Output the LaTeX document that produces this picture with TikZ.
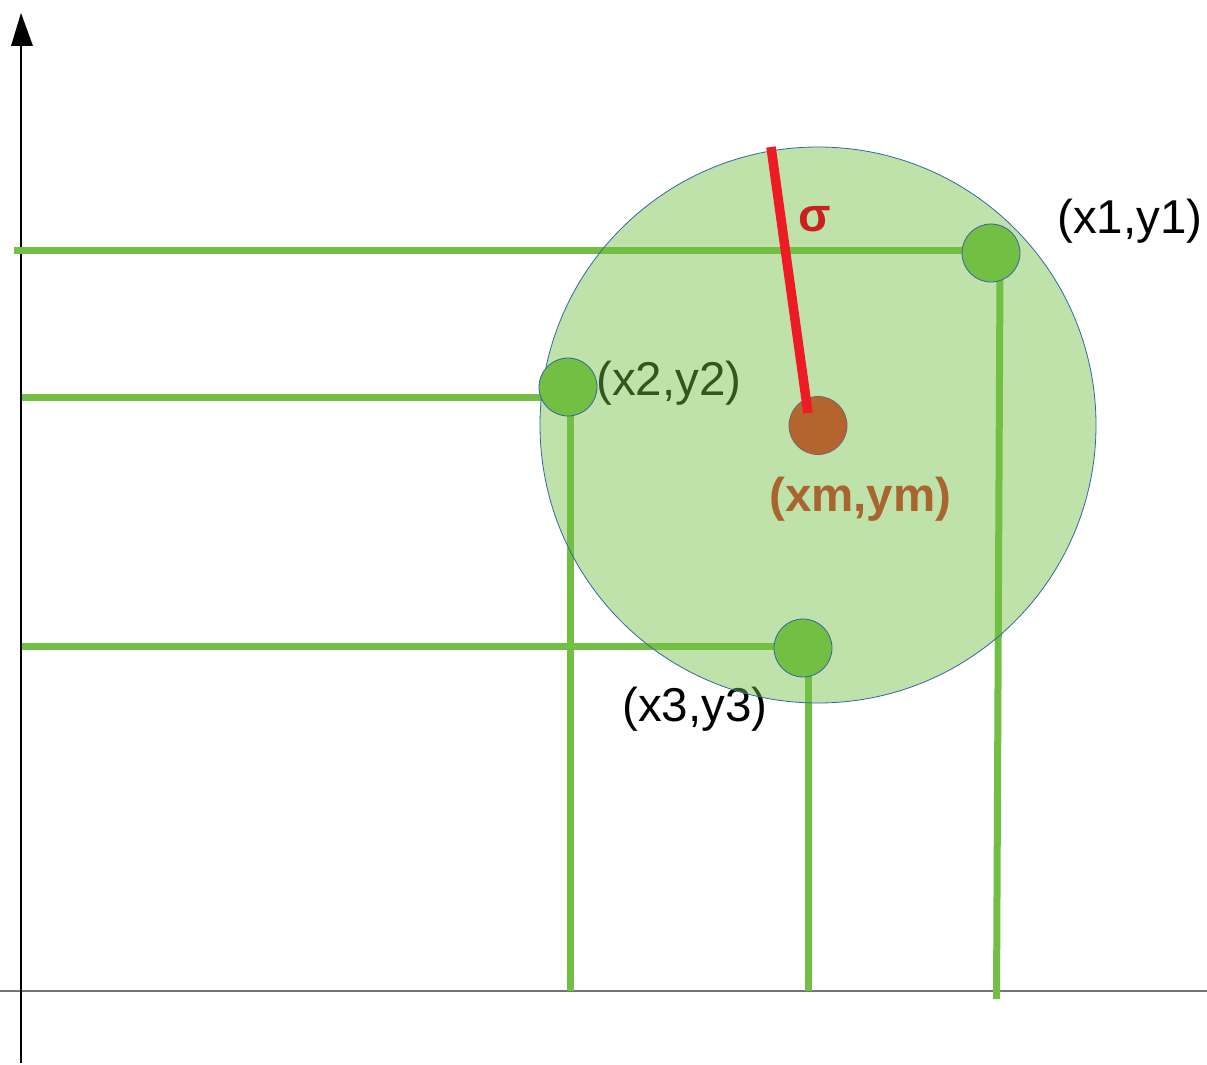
\documentclass[tikz,border=0pt]{standalone}
\usepackage{fontspec}
\setmainfont{Liberation Sans}
\definecolor{lgreen}{HTML}{72BF44}
\definecolor{cblue}{HTML}{3465A4}
\definecolor{sred}{HTML}{ED1C24}
\definecolor{dred}{HTML}{C9211E}
\definecolor{brownpt}{HTML}{B4652F}
\definecolor{browntxt}{HTML}{A8652F}
\begin{document}
\begin{tikzpicture}[x=1pt,y=-1pt,
  guide/.style={draw=lgreen,line width=7pt},
  dot/.style={circle,minimum size=58pt,inner sep=0pt,fill=lgreen,draw=cblue,line width=0.8pt},
  lbl/.style={inner sep=0pt,anchor=base west,font=\fontsize{47.5}{56}\selectfont}]
\useasboundingbox (0,0) rectangle (1207,1065);
\fill[white] (0,0) rectangle (1207,1065);
% axes
\coordinate (hl) at (0,991); \coordinate (hr) at (1207,991);
\draw[black!55,line width=1.3pt] (hl) -- (hr);
\coordinate (ab) at (21,1063); \coordinate (at) at (21,46);
\draw[black,line width=1.3pt] (ab) -- (at);
\fill[black] (11,46) -- (33,46) -- (21,13) -- cycle;
% guide lines
\coordinate (h1a) at (14,250.5);  \coordinate (h1b) at (991,250.5);
\coordinate (v1a) at (1000,270);  \coordinate (v1b) at (996.5,999);
\coordinate (h2a) at (22,397);    \coordinate (h2b) at (568,397);
\coordinate (v2a) at (570.5,400); \coordinate (v2b) at (570.5,991);
\coordinate (h3a) at (22,646.5);  \coordinate (h3b) at (803,646.5);
\coordinate (v3a) at (808,660);   \coordinate (v3b) at (808,991);
\draw[guide] (h1a) -- (h1b);
\draw[guide] (v1a) -- (v1b);
\draw[guide] (h2a) -- (h2b);
\draw[guide] (v2a) -- (v2b);
\draw[guide] (h3a) -- (h3b);
\draw[guide] (v3a) -- (v3b);
% labels under the translucent circle
\node[lbl] (l2) at (596,395) {(x2,y2)};
\node[lbl] (l3) at (622,721) {(x3,y3)};
% big circle
\node[circle,minimum size=556pt,inner sep=0pt,fill=lgreen,fill opacity=0.45,draw=cblue,line width=0.8pt] (big) at (818,425) {};
% points
\node[dot] (p1) at (991,253) {};
\node[dot] (p2) at (568,387) {};
\node[dot] (p3) at (803,648) {};
\node[dot,fill=brownpt,draw=cblue!50!brownpt] (pm) at (818,425.5) {};
% sigma line
\coordinate (st) at (771,147);
\coordinate (sb) at (808,413);
\draw[sred,line width=9.5pt] (st) -- (sb);
% labels
\node[lbl] (l1) at (1057,233) {(x1,y1)};
\node[lbl,text=dred,font=\fontsize{47.5}{56}\selectfont\bfseries] (ls) at (798,231) {σ};
\node[lbl,text=browntxt,font=\fontsize{47.5}{56}\selectfont\bfseries] (lm) at (769,511) {(xm,ym)};
\end{tikzpicture}
\end{document}
